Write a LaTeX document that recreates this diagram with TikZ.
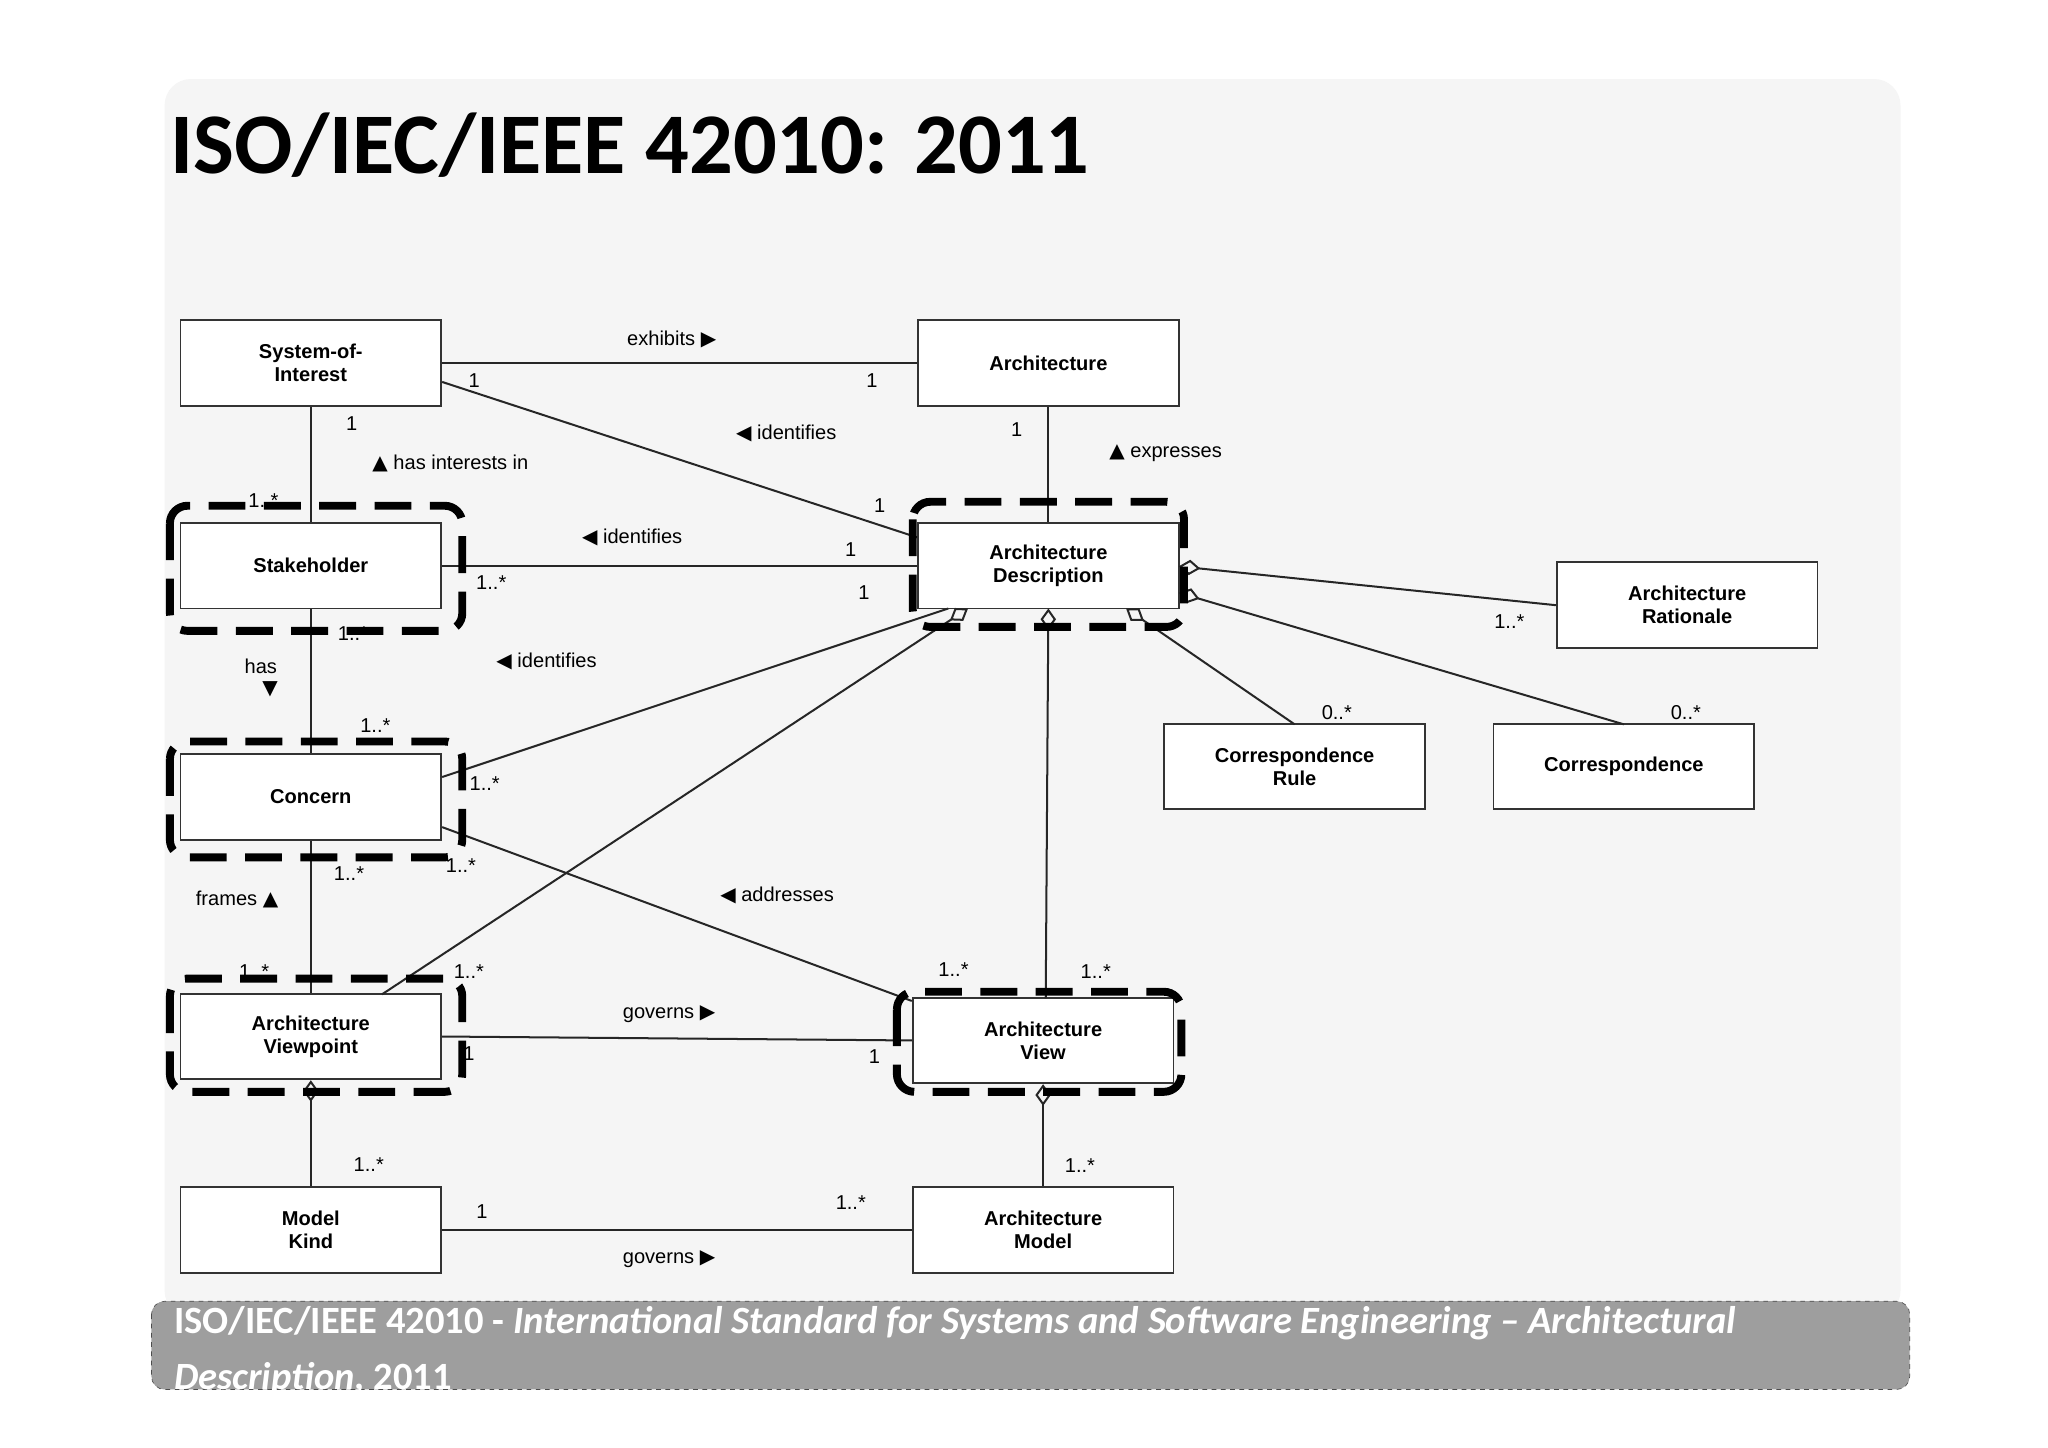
\documentclass[tikz,border=0pt]{standalone}
\usepackage{fontspec}
\setmainfont{Liberation Sans}
\newfontfamily\carl{Carlito}
\newfontfamily\sym{DejaVu Sans}
\usetikzlibrary{arrows.meta}
\newcommand{\R}{{\sym ▶}}
\newcommand{\Lf}{{\sym ◀}}
\newcommand{\U}{{\sym ▲}}
\newcommand{\D}{{\sym ▼}}
\begin{document}
\begin{tikzpicture}[x=0.03cm,y=-0.03cm,
  cls/.style={draw=black!80,line width=1.2pt,fill=white,minimum width=5.94cm,minimum height=1.95cm,align=center,font=\fontsize{13}{15}\selectfont\bfseries},
  lab/.style={font=\fontsize{13}{15}\selectfont},
  ln/.style={draw=black!85,line width=1.3pt},
  dia/.style={ln,{Diamond[open,length=14pt,width=10pt]}-},
  hl/.style={line width=0.18cm,dash pattern=on 0.84cm off 0.42cm,rounded corners=0.4cm}]
\useasboundingbox (0,0) rectangle (1555,1099);
\fill[white] (0,0) rectangle (1555,1099);
\fill[black!4,rounded corners=0.6cm] (125,60) rectangle (1443,1000);
\node[anchor=west,font=\carl\fontsize{56}{60}\selectfont\bfseries] (title) at (125,110) {ISO/IEC/IEEE 42010: 2011};
% nodes
\node[cls] (soi) at (236,275.5) {System-of-\\Interest};
\node[cls] (arch) at (796,275.5) {Architecture};
\node[cls] (sh) at (236,429.5) {Stakeholder};
\node[cls] (ad) at (796,429.5) {Architecture\\Description};
\node[cls] (ar) at (1281,459.5) {Architecture\\Rationale};
\node[cls] (cr) at (983,582) {Correspondence\\Rule};
\node[cls] (co) at (1233,582) {Correspondence};
\node[cls] (cn) at (236,605) {Concern};
\node[cls] (vp) at (236,787) {Architecture\\Viewpoint};
\node[cls] (vw) at (792,790) {Architecture\\View};
\node[cls] (mk) at (236,934) {Model\\Kind};
\node[cls] (am) at (792,934) {Architecture\\Model};
% edges
\draw[ln] (soi.east) -- (arch.west);
\draw[ln] (soi.east|-0,290) -- (ad.west|-0,408);
\draw[ln] (arch) -- (ad);
\draw[ln] (soi) -- (sh);
\draw[ln] (sh) -- (ad);
\draw[ln] (sh) -- (cn);
\draw[ln] (cn.east|-0,590) -- (720,462);
\draw[ln] (cn) -- (vp);
\draw[ln] (cn.east|-0,628) -- (vw.west|-0,760);
\draw[ln] (vp.east) -- (vw.west);
\draw[ln] (mk) -- (am);
\draw[dia] (735,462) -- (290,755);
\draw[dia] (796,462) -- (794,758);
\draw[dia] (855,462) -- (983,550);
\draw[dia] (895,430) -- (ar.west);
\draw[dia] (895,450) -- (1233,550);
\draw[dia] (vp.south) -- (mk.north);
\draw[dia] (vw.south) -- (am.north);
% highlight outlines
\draw[hl] (129,384) rectangle (351,479);
\draw[hl] (693,381) rectangle (899,476);
\draw[hl] (129,563) rectangle (351,651);
\draw[hl] (129,743) rectangle (351,829);
\draw[hl] (681,753) rectangle (897,829);
% labels
\node[lab] at (510,258) {exhibits \R};
\node[lab] at (360,289) {1};
\node[lab] at (662,289) {1};
\node[lab] at (597,329) {\Lf\ identifies};
\node[lab] at (668,384) {1};
\node[lab] at (772,326) {1};
\node[lab] at (885,344) {\U\ expresses};
\node[lab] at (267,322) {1};
\node[lab] at (342,352) {\U\ has interests in};
\node[lab] at (200,380) {1..*};
\node[lab] at (480,408) {\Lf\ identifies};
\node[lab] at (373,442) {1..*};
\node[lab] at (646,417) {1};
\node[lab] at (198,506) {has};
\node[lab] at (205,523) {\D};
\node[lab] at (268,481) {1..*};
\node[lab] at (285,551) {1..*};
\node[lab] at (415,502) {\Lf\ identifies};
\node[lab] at (656,450) {1};
\node[lab] at (368,595) {1..*};
\node[lab] at (180,683) {frames \U};
\node[lab] at (265,663) {1..*};
\node[lab] at (350,657) {1..*};
\node[lab] at (193,738) {1..*};
\node[lab] at (590,680) {\Lf\ addresses};
\node[lab] at (724,736) {1..*};
\node[lab] at (356,738) {1..*};
\node[lab] at (832,738) {1..*};
\node[lab] at (508,770) {governs \R};
\node[lab] at (356,800) {1};
\node[lab] at (664,802) {1};
\node[lab] at (280,884) {1..*};
\node[lab] at (820,885) {1..*};
\node[lab] at (366,920) {1};
\node[lab] at (646,913) {1..*};
\node[lab] at (508,956) {governs \R};
\node[lab] at (1146,472) {1..*};
\node[lab] at (1280,541) {0..*};
\node[lab] at (1015,541) {0..*};
% footer
\draw[black!70,dashed,fill=black!38,rounded corners=0.3cm] (115,988) rectangle (1450,1055);
\node[anchor=north west,text=white,align=left,font=\carl\fontsize{25}{36}\selectfont\bfseries] (foot) at (128,988) {ISO/IEC/IEEE 42010 - \textit{International Standard for Systems and Software Engineering – Architectural}\\\textit{Description}, 2011};
\end{tikzpicture}
\end{document}
